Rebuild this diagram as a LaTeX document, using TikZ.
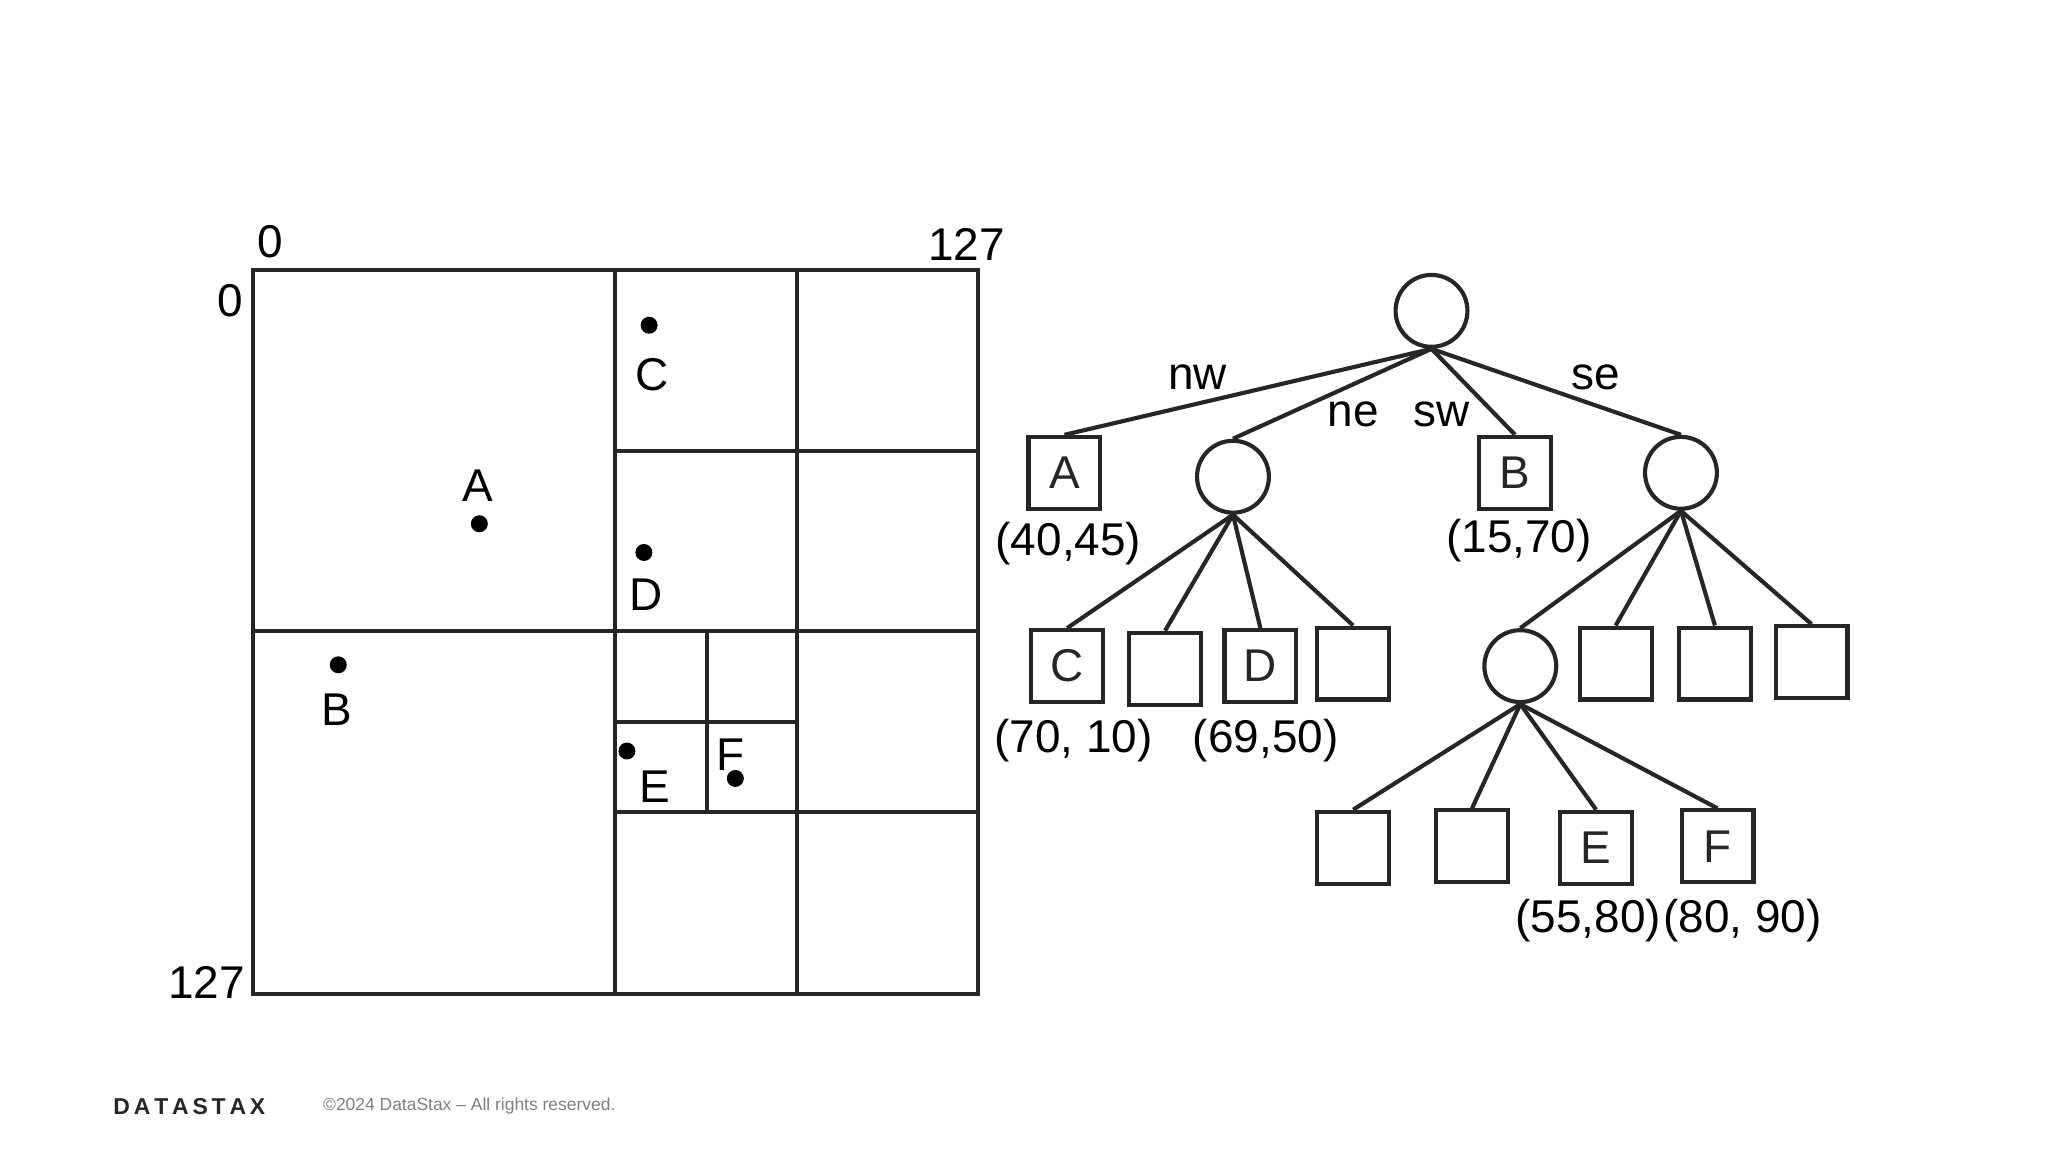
\documentclass[tikz,border=0pt]{standalone}
\usepackage{fontspec}
\setmainfont{Liberation Sans}
\begin{document}
\begin{tikzpicture}[x=0.01cm,y=-0.01cm,
  ln/.style={line width=0.9pt,black!85},
  sq/.style={draw,ln,minimum size=0.55cm,inner sep=0pt,font=\fontsize{10}{12}\selectfont},
  cr/.style={draw,ln,circle,minimum size=0.55cm,inner sep=0pt},
  lb/.style={font=\fontsize{10}{12}\selectfont,inner sep=0pt},
  dot/.style={circle,fill=black,minimum size=0.13cm,inner sep=0pt}]
\useasboundingbox[fill=white] (0,0) rectangle (1568,882);
% grid
\draw[ln] (194,207) rectangle (749,761);
\draw[ln] (471,207) -- (471,761);
\draw[ln] (610,207) -- (610,761);
\draw[ln] (194,483) -- (749,483);
\draw[ln] (471,345) -- (749,345);
\draw[ln] (471,622) -- (749,622);
\draw[ln] (541,483) -- (541,622);
\draw[ln] (471,553) -- (610,553);
\node[lb] (t0) at (207,185) {0};
\node[lb] (t127) at (740,187) {127};
\node[lb] (l0) at (176,230) {0};
\node[lb] (l127) at (158,752) {127};
\node[dot] (pc) at (497,249) {}; \node[lb] (lc) at (499,287) {C};
\node[dot] (pa) at (367,401) {}; \node[lb] (la) at (366,372) {A};
\node[dot] (pd) at (493,423) {}; \node[lb] (ld) at (495,455) {D};
\node[dot] (pb) at (259,509) {}; \node[lb] (lbb) at (258,543) {B};
\node[dot] (pe) at (480,575) {}; \node[lb] (le) at (501,602) {E};
\node[dot] (pf) at (563,596) {}; \node[lb] (lf) at (559,578) {F};
% tree
\node[cr] (r) at (1096,238) {};
\node[sq] (A) at (815,362) {A};
\node[cr] (c1) at (944,365) {};
\node[sq] (B) at (1160,362) {B};
\node[cr] (c2) at (1287,362) {};
\foreach \n in {A,c1,B,c2} \draw[ln] (r.south) -- (\n.north);
\node[lb] (nw) at (917,289) {nw};
\node[lb] (ne) at (1036,317) {ne};
\node[lb] (sw) at (1104,317) {sw};
\node[lb] (se) at (1222,289) {se};
\node[lb] (la1) at (818,416) {(40,45)};
\node[lb] (lb1) at (1163,414) {(15,70)};
\node[sq] (C) at (817,510) {C};
\node[sq] (e1) at (892,512) {};
\node[sq] (D) at (965,510) {D};
\node[sq] (e2) at (1036,508) {};
\foreach \n in {C,e1,D,e2} \draw[ln] (c1.south) -- (\n.north);
\node[lb] (lc1) at (822,567) {(70, 10)};
\node[lb] (ld1) at (969,567) {(69,50)};
\node[cr] (c3) at (1164,510) {};
\node[sq] (e3) at (1237,508) {};
\node[sq] (e4) at (1313,508) {};
\node[sq] (e5) at (1387,507) {};
\foreach \n in {c3,e3,e4,e5} \draw[ln] (c2.south) -- (\n.north);
\node[sq] (e6) at (1036,649) {};
\node[sq] (e7) at (1127,648) {};
\node[sq] (E) at (1222,649) {E};
\node[sq] (F) at (1315,648) {F};
\foreach \n in {e6,e7,E,F} \draw[ln] (c3.south) -- (\n.north);
\node[lb] (le1) at (1216,705) {(55,80)};
\node[lb] (lf1) at (1334,705) {(80, 90)};
% footer
\node[font=\fontsize{5}{6}\selectfont\bfseries,text=black!85] (logo) at (145,847) {D\,A\,T\,A\,S\,T\,A\,X};
\node[font=\fontsize{3.8}{5}\selectfont,text=black!50,anchor=west] (copy) at (235,847) {©2024 DataStax – All rights reserved.};
\end{tikzpicture}
\end{document}
